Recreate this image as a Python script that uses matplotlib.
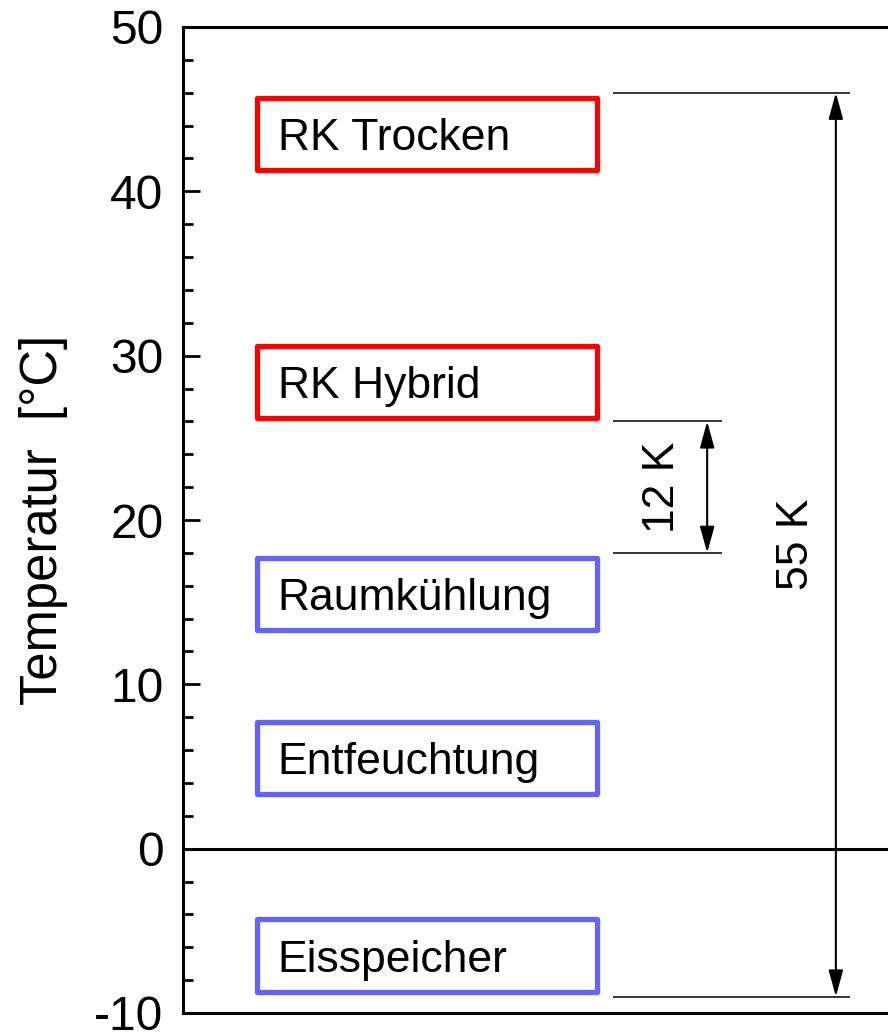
import matplotlib
matplotlib.use("Agg")
import matplotlib.pyplot as plt
from matplotlib.patches import Rectangle
from matplotlib.ticker import MultipleLocator

plt.rcParams['font.family'] = ['Liberation Sans', 'DejaVu Sans']
plt.rcParams['axes.unicode_minus'] = False

# Data
labels = ["RK Trocken", "RK Hybrid", "Raumkühlung", "Entfeuchtung", "Eisspeicher"]
box_low = [41.3, 26.2, 13.3, 3.3, -8.7]
box_high = [45.7, 30.6, 17.7, 7.7, -4.3]
box_kind = ["warm", "warm", "kalt", "kalt", "kalt"]
span_big = (-9, 46)
span_big_label = "55 K"
span_small = (18, 26)
span_small_label = "12 K"
y_ticks = [-10, 0, 10, 20, 30, 40, 50]
y_label = "Temperatur  [°C]"

kind_colors = {"warm": "#FF0000", "kalt": "#6363FF"}

fig = plt.figure(figsize=(8.88, 10.32), dpi=100)
ax = fig.add_axes([183/888, 19/1032, 723/888, 986/1032])
ax.set_xlim(0, 100)
ax.set_ylim(-10, 50)

for s in ax.spines.values():
    s.set_linewidth(2.2)
ax.spines['right'].set_visible(False)

ax.set_xticks([])
ax.set_yticks(y_ticks)
ax.yaxis.set_minor_locator(MultipleLocator(2))
ax.tick_params(axis='y', which='major', direction='in', length=12, width=2.0,
               labelsize=34.5, pad=14)
ax.tick_params(axis='y', which='minor', direction='in', length=7, width=2.0)
ax.set_ylabel(y_label, fontsize=36.5, labelpad=19)

ax.axhline(0, color='black', lw=2.2, zorder=1)

# Boxes
bx0, bx1 = 10.3, 57.3
for lab, lo, hi, k in zip(labels, box_low, box_high, box_kind):
    r = Rectangle((bx0, lo), bx1 - bx0, hi - lo, fill=False,
                  edgecolor=kind_colors[k], lw=3.8, joinstyle='round', zorder=3)
    ax.add_patch(r)
    ax.text(13.1, (lo + hi) / 2 - 0.98, lab, fontsize=32, ha='left',
            va='baseline', zorder=4)

# Dimension lines
ax.hlines([span_big[1], span_big[0]], 59.5, 92.3, color='black', lw=1.1, zorder=2)
ax.hlines([span_small[1], span_small[0]], 59.5, 74.6, color='black', lw=1.1, zorder=2)

arrow_kw = dict(arrowstyle='<|-|>,head_length=0.8,head_width=0.22',
                mutation_scale=20, color='black', lw=1.5,
                shrinkA=0, shrinkB=0)
ax.annotate('', xy=(90.3, span_big[1]), xytext=(90.3, span_big[0]),
            arrowprops=arrow_kw, zorder=5)
ax.annotate('', xy=(72.5, span_small[1]), xytext=(72.5, span_small[0]),
            arrowprops=arrow_kw, zorder=5)

ax.text(84.9, sum(span_big) / 2, span_big_label, rotation=90, fontsize=32,
        ha='center', va='center')
ax.text(66.3, sum(span_small) / 2, span_small_label, rotation=90, fontsize=32,
        ha='center', va='center')

fig.savefig("out.png", dpi=100)
